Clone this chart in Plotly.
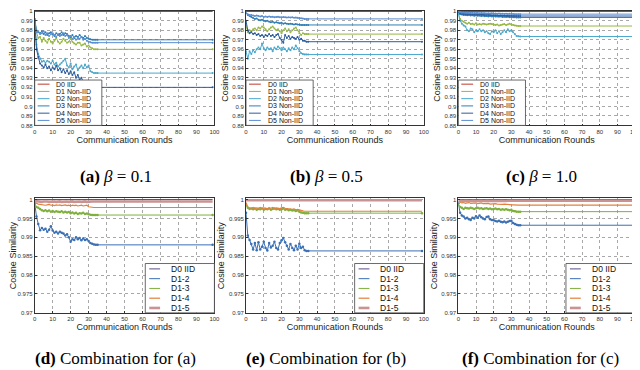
import plotly.graph_objects as go

W, H = 640, 370

# ---------------- data ----------------
# rounds 0..35 read individually, last value is the settled level held until round 99
ROUNDS = list(range(36)) + [99]
FLAT = [0, 99]

# (a) beta = 0.1
a_d0 = [1.0, 1.0]
a_d1 = [0.990, 0.978, 0.972, 0.973, 0.968, 0.972, 0.969, 0.967, 0.971, 0.968, 0.966, 0.969, 0.972, 0.968, 0.966, 0.968,
        0.971, 0.969, 0.967, 0.968, 0.971, 0.968, 0.966, 0.965, 0.967, 0.967, 0.964, 0.965, 0.966, 0.963, 0.964, 0.962,
        0.961, 0.960, 0.960, 0.960, 0.960]
a_d2 = [0.990, 0.965, 0.955, 0.950, 0.947, 0.948, 0.946, 0.948, 0.947, 0.945, 0.948, 0.944, 0.946, 0.942, 0.944, 0.946,
        0.948, 0.950, 0.943, 0.941, 0.945, 0.939, 0.942, 0.944, 0.938, 0.941, 0.943, 0.940, 0.944, 0.941, 0.943, 0.937,
        0.936, 0.935, 0.935, 0.935, 0.935]
a_d3 = [0.992, 0.980, 0.978, 0.977, 0.979, 0.976, 0.978, 0.975, 0.977, 0.978, 0.976, 0.974, 0.977, 0.975, 0.976, 0.978,
        0.975, 0.977, 0.976, 0.974, 0.973, 0.975, 0.972, 0.974, 0.973, 0.975, 0.973, 0.972, 0.974, 0.972, 0.971, 0.9705,
        0.970, 0.970, 0.970, 0.970, 0.970]
a_d4 = [0.990, 0.960, 0.952, 0.945, 0.943, 0.941, 0.944, 0.940, 0.942, 0.938, 0.941, 0.939, 0.943, 0.938, 0.940, 0.936,
        0.939, 0.935, 0.938, 0.934, 0.937, 0.933, 0.936, 0.930, 0.933, 0.928, 0.930, 0.926, 0.925, 0.923, 0.922, 0.921,
        0.9205, 0.920, 0.920, 0.920, 0.920]
a_d5 = [0.992, 0.978, 0.979, 0.976, 0.977, 0.979, 0.975, 0.977, 0.974, 0.976, 0.977, 0.975, 0.973, 0.976, 0.974, 0.975,
        0.977, 0.974, 0.975, 0.972, 0.974, 0.971, 0.973, 0.970, 0.972, 0.971, 0.973, 0.970, 0.971, 0.969, 0.968, 0.9675,
        0.967, 0.967, 0.967, 0.967, 0.967]

# (b) beta = 0.5
b_d0 = [1.0, 1.0]
b_d1 = [0.985, 0.978, 0.980, 0.979, 0.981, 0.982, 0.980, 0.983, 0.982, 0.984, 0.983, 0.981, 0.979, 0.981, 0.983, 0.984,
        0.982, 0.980, 0.981, 0.979, 0.977, 0.980, 0.982, 0.979, 0.981, 0.978, 0.980, 0.982, 0.983, 0.980, 0.977, 0.975,
        0.977, 0.976, 0.976, 0.976, 0.976]
b_d2 = [0.958, 0.950, 0.958, 0.955, 0.959, 0.957, 0.960, 0.962, 0.960, 0.966, 0.961, 0.959, 0.962, 0.960, 0.961, 0.958,
        0.962, 0.960, 0.963, 0.961, 0.959, 0.962, 0.960, 0.958, 0.961, 0.959, 0.962, 0.960, 0.964, 0.961, 0.958, 0.956,
        0.955, 0.9546, 0.9546, 0.9546, 0.9546]
b_d3 = [0.998, 0.996, 0.995, 0.994, 0.993, 0.992, 0.9925, 0.991, 0.9905, 0.991, 0.990, 0.9895, 0.990, 0.989, 0.9885, 0.989,
        0.988, 0.9885, 0.988, 0.9875, 0.988, 0.987, 0.9875, 0.987, 0.9865, 0.987, 0.9865, 0.986, 0.9865, 0.986, 0.9858,
        0.9856, 0.9856, 0.9856, 0.9856, 0.9856, 0.9856]
b_d4 = [0.990, 0.980, 0.977, 0.978, 0.976, 0.977, 0.975, 0.976, 0.974, 0.975, 0.973, 0.975, 0.974, 0.976, 0.974, 0.975,
        0.973, 0.975, 0.976, 0.972, 0.970, 0.967, 0.975, 0.972, 0.974, 0.971, 0.973, 0.972, 0.971, 0.973, 0.970, 0.971,
        0.969, 0.969, 0.968, 0.968, 0.968]
b_d5 = [0.998, 0.997, 0.996, 0.996, 0.9955, 0.995, 0.9955, 0.995, 0.9945, 0.995, 0.994, 0.9945, 0.994, 0.9945, 0.994, 0.9942,
        0.9938, 0.994, 0.9943, 0.9938, 0.9936, 0.994, 0.9937, 0.9935, 0.9938, 0.9934, 0.9936, 0.9933, 0.9935, 0.9932, 0.993,
        0.9926, 0.9924, 0.992, 0.992, 0.992, 0.992]

# (c) beta = 1.0
c_d0 = [1.0, 1.0]
c_d1 = [0.998, 0.992, 0.990, 0.989, 0.988, 0.987, 0.988, 0.9865, 0.987, 0.986, 0.9875, 0.986, 0.9865, 0.986, 0.987, 0.9865,
        0.986, 0.9865, 0.987, 0.9865, 0.986, 0.9855, 0.986, 0.985, 0.9855, 0.986, 0.9865, 0.9855, 0.986, 0.987, 0.986,
        0.9855, 0.985, 0.9848, 0.9845, 0.9845, 0.9845]
c_d2 = [0.997, 0.990, 0.987, 0.985, 0.984, 0.980, 0.979, 0.982, 0.981, 0.978, 0.980, 0.979, 0.981, 0.979, 0.980, 0.978,
        0.979, 0.977, 0.976, 0.979, 0.978, 0.980, 0.977, 0.979, 0.976, 0.978, 0.980, 0.978, 0.981, 0.979, 0.980, 0.978,
        0.976, 0.974, 0.9738, 0.9735, 0.9735]
c_d3 = [0.999, 0.997, 0.9965, 0.996, 0.9962, 0.9958, 0.996, 0.9955, 0.9958, 0.9953, 0.9956, 0.9952, 0.9955, 0.995, 0.9953,
        0.9948, 0.995, 0.9946, 0.995, 0.9945, 0.9948, 0.9944, 0.9946, 0.9942, 0.9945, 0.9941, 0.9943, 0.994, 0.9942, 0.9938,
        0.994, 0.9937, 0.9936, 0.9935, 0.9935, 0.9935, 0.9935]
c_d4 = [0.999, 0.998, 0.9975, 0.9972, 0.9974, 0.997, 0.9972, 0.9968, 0.997, 0.9966, 0.9968, 0.9965, 0.9967, 0.9963, 0.9965,
        0.9962, 0.9964, 0.996, 0.9962, 0.9958, 0.996, 0.9957, 0.9959, 0.9955, 0.9957, 0.9954, 0.9955, 0.9952, 0.9954, 0.9951,
        0.9952, 0.9951, 0.995, 0.995, 0.995, 0.995, 0.995]
c_d5 = [0.9995, 0.999, 0.9985, 0.9987, 0.9984, 0.9986, 0.9982, 0.9984, 0.9981, 0.9983, 0.998, 0.9982, 0.9979, 0.9981, 0.9978,
        0.998, 0.9977, 0.9979, 0.9976, 0.9978, 0.9975, 0.9977, 0.9974, 0.9976, 0.9973, 0.9975, 0.9972, 0.9974, 0.9972, 0.9973,
        0.9971, 0.9971, 0.997, 0.997, 0.997, 0.997, 0.997]

# (d) combination for (a)
d_d0 = [1.0, 1.0]
d_12 = [0.9990, 0.9955, 0.9935, 0.9919, 0.9925, 0.9920, 0.9923, 0.9915, 0.9920, 0.9929, 0.9918, 0.9912, 0.9915, 0.9910,
        0.9915, 0.9912, 0.9910, 0.9905, 0.9908, 0.9900, 0.9888, 0.9895, 0.9893, 0.9900, 0.9895, 0.9898, 0.9892, 0.9897,
        0.9893, 0.9895, 0.9890, 0.9885, 0.9883, 0.9881, 0.9880, 0.9880, 0.9880]
d_13 = [0.9990, 0.9980, 0.9978, 0.9975, 0.9972, 0.9970, 0.9972, 0.9969, 0.9971, 0.9968, 0.9970, 0.9967, 0.9969, 0.9968,
        0.9967, 0.9969, 0.9966, 0.9968, 0.9966, 0.9967, 0.9964, 0.9966, 0.9963, 0.9965, 0.9962, 0.9964, 0.9963, 0.9965,
        0.9962, 0.9963, 0.9961, 0.9960, 0.9959, 0.9959, 0.9959, 0.9959, 0.9959]
d_14 = [0.9995, 0.9990, 0.9988, 0.9987, 0.9986, 0.9987, 0.9985, 0.9986, 0.9987, 0.9985, 0.9986, 0.9984, 0.9986, 0.9985,
        0.9986, 0.9984, 0.9985, 0.9986, 0.9984, 0.9985, 0.9983, 0.9985, 0.9984, 0.9985, 0.9983, 0.9984, 0.9985, 0.9983,
        0.9984, 0.9985, 0.9981, 0.9980, 0.9979, 0.9979, 0.9979, 0.9979, 0.9979]
d_15 = [0.9996, 0.9995, 0.9996, 0.9995, 0.9994, 0.9995, 0.9996, 0.9995, 0.9994, 0.9995, 0.9996, 0.9995, 0.9994, 0.9995,
        0.9995, 0.9994, 0.9995, 0.9996, 0.9995, 0.9994, 0.9995, 0.9995, 0.9994, 0.9995, 0.9996, 0.9995, 0.9994, 0.9995,
        0.9995, 0.9994, 0.9995, 0.9995, 0.9995, 0.9995, 0.9995, 0.9995, 0.9995]

# (e) combination for (b)
e_d0 = [1.0, 1.0]
e_12 = [0.9965, 0.9905, 0.9893, 0.9882, 0.9868, 0.9885, 0.9866, 0.9887, 0.9868, 0.9875, 0.9888, 0.9872, 0.9865, 0.9885,
        0.9873, 0.9878, 0.9888, 0.9872, 0.9868, 0.9885, 0.9892, 0.9898, 0.9887, 0.9878, 0.9868, 0.9882, 0.9872, 0.9866,
        0.9878, 0.9868, 0.9883, 0.9872, 0.9875, 0.9866, 0.9864, 0.9864, 0.9864]
e_13 = [0.9985, 0.9978, 0.9975, 0.9976, 0.9974, 0.9976, 0.9973, 0.9975, 0.9974, 0.9976, 0.9973, 0.9975, 0.9974, 0.9976,
        0.9973, 0.9975, 0.9976, 0.9974, 0.9975, 0.9973, 0.9974, 0.9976, 0.9973, 0.9974, 0.9972, 0.9973, 0.9971, 0.9972,
        0.9970, 0.9971, 0.9968, 0.9966, 0.9965, 0.9964, 0.9964, 0.9964, 0.9964]
e_14 = [0.9992, 0.9980, 0.9978, 0.9977, 0.9979, 0.9976, 0.9978, 0.9977, 0.9979, 0.9976, 0.9978, 0.9977, 0.9976, 0.9978,
        0.9977, 0.9979, 0.9976, 0.9978, 0.9977, 0.9976, 0.9978, 0.9979, 0.9977, 0.9976, 0.9975, 0.9976, 0.9974, 0.9975,
        0.9973, 0.9974, 0.9972, 0.9971, 0.9970, 0.9969, 0.9969, 0.9969, 0.9969]
e_15 = [0.9998, 0.9998, 0.9997, 0.9998, 0.9998, 0.9997, 0.9998, 0.9998, 0.9997, 0.9998, 0.9998, 0.9997, 0.9998, 0.9998,
        0.9997, 0.9998, 0.9998, 0.9997, 0.9998, 0.9998, 0.9997, 0.9998, 0.9998, 0.9997, 0.9998, 0.9998, 0.9997, 0.9998,
        0.9998, 0.9997, 0.9998, 0.9998, 0.9998, 0.9998, 0.9998, 0.9998, 0.9998]

# (f) combination for (c)
f_d0 = [1.0, 1.0]
f_12 = [0.9990, 0.9965, 0.9958, 0.9955, 0.9950, 0.9952, 0.9948, 0.9946, 0.9952, 0.9950, 0.9956, 0.9952, 0.9958, 0.9953,
        0.9950, 0.9948, 0.9954, 0.9955, 0.9948, 0.9946, 0.9945, 0.9943, 0.9942, 0.9944, 0.9941, 0.9940, 0.9942, 0.9939,
        0.9941, 0.9943, 0.9944, 0.9938, 0.9935, 0.9933, 0.9932, 0.9932, 0.9932]
f_13 = [0.9985, 0.9980, 0.9978, 0.9975, 0.9978, 0.9977, 0.9976, 0.9978, 0.9977, 0.9975, 0.9977, 0.9978, 0.9976, 0.9977,
        0.9975, 0.9976, 0.9977, 0.9975, 0.9976, 0.9974, 0.9975, 0.9976, 0.9974, 0.9975, 0.9973, 0.9974, 0.9973, 0.9974,
        0.9973, 0.9972, 0.9973, 0.9970, 0.9969, 0.9968, 0.9968, 0.9968, 0.9968]
f_14 = [0.9995, 0.9992, 0.9991, 0.9992, 0.9990, 0.9991, 0.9992, 0.9990, 0.9991, 0.9990, 0.9991, 0.9989, 0.9990, 0.9991,
        0.9989, 0.9990, 0.9989, 0.9990, 0.9988, 0.9989, 0.9988, 0.9989, 0.9988, 0.9987, 0.9988, 0.9987, 0.9988, 0.9987,
        0.9986, 0.9987, 0.9986, 0.9986, 0.9985, 0.9985, 0.9985, 0.9985, 0.9985]
f_15 = [0.9997, 0.9996, 0.9997, 0.9996, 0.9997, 0.9996, 0.9997, 0.9996, 0.9997, 0.9996, 0.9997, 0.9996, 0.9997, 0.9996,
        0.9997, 0.9996, 0.9997, 0.9996, 0.9997, 0.9996, 0.9997, 0.9996, 0.9997, 0.9996, 0.9997, 0.9996, 0.9997, 0.9996,
        0.9997, 0.9996, 0.9997, 0.9997, 0.9997, 0.9997, 0.9997, 0.9997, 0.9997]

TOP_NAMES = ["D0 IID", "D1 Non-IID", "D2 Non-IID", "D3 Non-IID", "D4 Non-IID", "D5 Non-IID"]
BOT_NAMES = ["D0 IID", "D1-2", "D1-3", "D1-4", "D1-5"]
TOP_COLORS = ["#c0392b", "#96b840", "#4aa8cc", "#2f7fb5", "#2c5d9e", "#5b8ed0"]
BOT_COLORS = ["#5c4c86", "#3b70b5", "#7fb03c", "#e3803a", "#c99393"]
BOT_WIDTHS = [1.0, 1.0, 1.0, 1.2, 2.6]

TOP_TICKS = [0.88, 0.89, 0.90, 0.91, 0.92, 0.93, 0.94, 0.95, 0.96, 0.97, 0.98, 0.99, 1.0]
TOP_TICKTEXT = ["0.88", "0.89", "0.9", "0.91", "0.92", "0.93", "0.94", "0.95", "0.96", "0.97", "0.98", "0.99", "1"]
BOT_TICKS = [0.97, 0.975, 0.98, 0.985, 0.99, 0.995, 1.0]
BOT_TICKTEXT = ["0.97", "0.975", "0.98", "0.985", "0.99", "0.995", "1"]
X_TICKS = [0, 10, 20, 30, 40, 50, 60, 70, 80, 90, 100]

CAPTIONS_TOP = ["<b>(a)</b> <i>β</i> = 0.1", "<b>(b)</b> <i>β</i> = 0.5", "<b>(c)</b> <i>β</i> = 1.0"]
CAPTIONS_BOT = ["<b>(d)</b> Combination for (a)", "<b>(e)</b> Combination for (b)", "<b>(f)</b> Combination for (c)"]

# ---------------- layout geometry (pixels) ----------------
PX_X = [(25, 207), (239, 419), (454, 633)]
TOP_Y = (1, 117)
BOT_Y = (191, 307)


def fx(p):
    return p / W


def fy(p):
    return 1 - p / H


fig = go.Figure()

top_series = [[a_d0, a_d1, a_d2, a_d3, a_d4, a_d5],
              [b_d0, b_d1, b_d2, b_d3, b_d4, b_d5],
              [c_d0, c_d1, c_d2, c_d3, c_d4, c_d5]]
bot_series = [[d_d0, d_12, d_13, d_14, d_15],
              [e_d0, e_12, e_13, e_14, e_15],
              [f_d0, f_12, f_13, f_14, f_15]]

axis_font = dict(family="Liberation Sans, Arial, sans-serif", size=6, color="#333")
title_font = dict(family="Liberation Sans, Arial, sans-serif", size=9, color="#222")

layout = dict(width=W, height=H, margin=dict(l=0, r=0, t=0, b=0),
              paper_bgcolor="white", plot_bgcolor="white", showlegend=False)

shapes = []
annotations = []


def add_axes(idx, xpx, ypx, ticks, ticktext, yrange):
    xa = "xaxis" if idx == 1 else f"xaxis{idx}"
    ya = "yaxis" if idx == 1 else f"yaxis{idx}"
    anchor_x = "x" if idx == 1 else f"x{idx}"
    anchor_y = "y" if idx == 1 else f"y{idx}"
    common = dict(showline=True, mirror=True, linecolor="#333", linewidth=0.8,
                  showgrid=True, gridcolor="#a8a8a8", griddash="dot", gridwidth=0.6,
                  ticks="inside", ticklen=2, tickcolor="#333", tickfont=axis_font, zeroline=False)
    layout[xa] = dict(domain=[fx(xpx[0]), fx(xpx[1])], anchor=anchor_y, range=[0, 100],
                      tickvals=X_TICKS, title=dict(text="Communication Rounds", font=title_font, standoff=1),
                      **common)
    layout[ya] = dict(domain=[fy(ypx[1]), fy(ypx[0])], anchor=anchor_x, range=yrange,
                      tickvals=ticks, ticktext=ticktext,
                      title=dict(text="Cosine Similarity", font=title_font, standoff=2), **common)
    return anchor_x, anchor_y


def add_legend(box, names, colors, widths, step, fsize, sample, text_dx):
    x0, y0, x1, y1 = box
    shapes.append(dict(type="rect", xref="paper", yref="paper", x0=fx(x0), x1=fx(x1), y0=fy(y1), y1=fy(y0),
                       line=dict(color="#444", width=0.8), fillcolor="white", layer="above"))
    for i, (n, c, w) in enumerate(zip(names, colors, widths)):
        yy = y0 + step * (i + 0.5) + 0.5
        shapes.append(dict(type="line", xref="paper", yref="paper", x0=fx(x0 + sample[0]), x1=fx(x0 + sample[1]),
                           y0=fy(yy), y1=fy(yy), line=dict(color=c, width=max(w, 1.0)), layer="above"))
        annotations.append(dict(text=n, xref="paper", yref="paper", x=fx(x0 + text_dx), y=fy(yy),
                                xanchor="left", yanchor="middle", showarrow=False, borderpad=0,
                                font=dict(family="Liberation Sans, Arial, sans-serif", size=fsize, color="#111")))


for k in range(3):
    xa, ya = add_axes(k + 1, PX_X[k], TOP_Y, TOP_TICKS, TOP_TICKTEXT, [0.88, 1.0003])
    for j, vals in enumerate(top_series[k]):
        xs = FLAT if len(vals) == 2 else ROUNDS
        fig.add_trace(go.Scatter(x=xs, y=vals, xaxis=xa, yaxis=ya, mode="lines+markers" if j > 0 else "lines",
                                 line=dict(color=TOP_COLORS[j], width=1.3 if j == 0 else 1.0),
                                 marker=dict(size=2, color=TOP_COLORS[j]), name=TOP_NAMES[j]))
    add_legend((PX_X[k][0], 71, PX_X[k][0] + 68, TOP_Y[1]), TOP_NAMES, TOP_COLORS, [1] * 6,
               7.35, 7, (3, 15), 21)
    annotations.append(dict(text=CAPTIONS_TOP[k], xref="paper", yref="paper",
                            x=fx([107, 321, 538][k]), y=fy(169), xanchor="center", yanchor="middle",
                            showarrow=False, font=dict(family="Liberation Serif, serif", size=17, color="black")))

for k in range(3):
    xa, ya = add_axes(k + 4, PX_X[k], BOT_Y, BOT_TICKS, BOT_TICKTEXT, [0.97, 1.0003])
    for j, vals in enumerate(bot_series[k]):
        xs = FLAT if len(vals) == 2 else ROUNDS
        mode = "lines+markers" if j in (1, 2) else "lines"
        fig.add_trace(go.Scatter(x=xs, y=vals, xaxis=xa, yaxis=ya, mode=mode,
                                 line=dict(color=BOT_COLORS[j], width=BOT_WIDTHS[j]),
                                 marker=dict(size=2.5, color=BOT_COLORS[j]), name=BOT_NAMES[j]))
    add_legend((PX_X[k][1] - 70, 257, PX_X[k][1], BOT_Y[1]), BOT_NAMES, BOT_COLORS, BOT_WIDTHS,
               9.9, 8.5, (4, 15), 25)
    annotations.append(dict(text=CAPTIONS_BOT[k], xref="paper", yref="paper",
                            x=fx([107, 320, 537][k]), y=fy(353), xanchor="center", yanchor="middle",
                            showarrow=False, font=dict(family="Liberation Serif, serif", size=17, color="black")))

layout["shapes"] = shapes
layout["annotations"] = annotations
fig.update_layout(**layout)
fig.write_html("out.html")
